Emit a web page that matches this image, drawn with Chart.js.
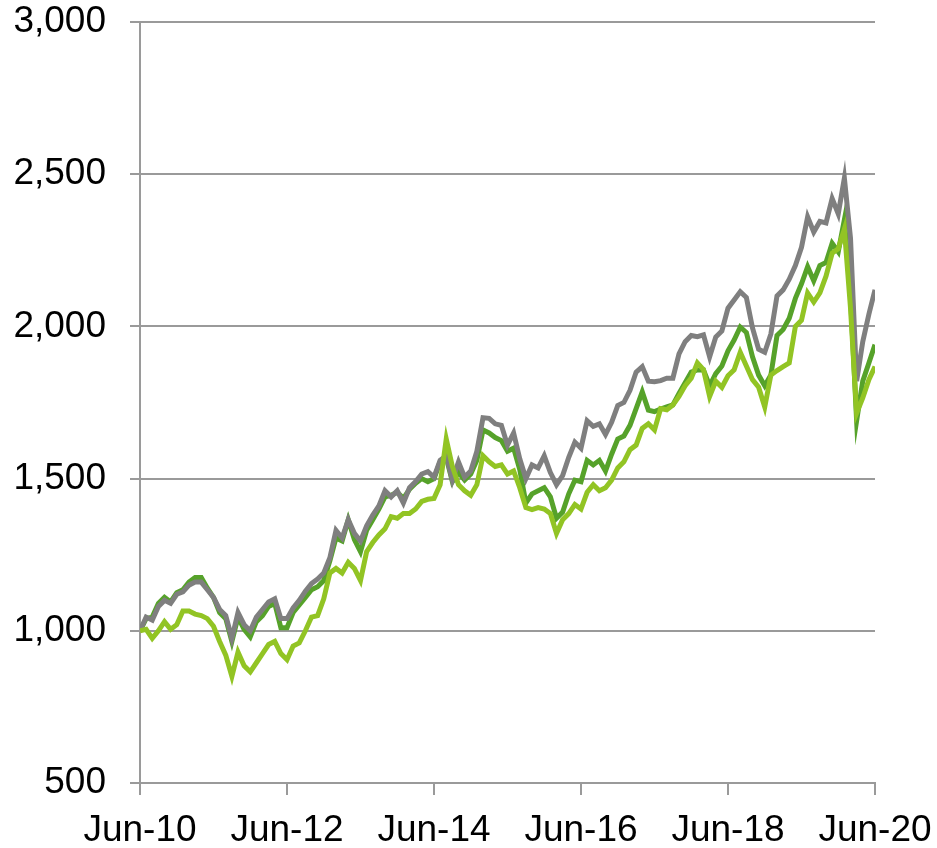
<!DOCTYPE html>
<html>
<head>
<meta charset="utf-8">
<script src="https://cdn.jsdelivr.net/npm/chart.js@4.4.1/dist/chart.umd.min.js"></script>
<style>
  html, body { margin: 0; padding: 0; background: #fff; }
  #wrap { width: 937px; height: 848px; }
</style>
</head>
<body>
<div id="wrap"><canvas id="myChart" width="937" height="848"></canvas></div>
<script>
// monthly index values, Jun-10 .. Jun-20 (121 months)
const grayValues = [
  1000, 1045, 1035, 1080, 1100, 1090, 1120, 1128, 1150, 1160, 1160, 1135, 1110, 1070, 1050, 975, 1060, 1020, 1000, 1045, 1070,
  1095, 1105, 1040, 1040, 1075, 1100, 1130, 1155, 1170, 1190, 1240, 1330, 1305, 1365, 1320, 1295, 1345, 1380, 1410, 1460,
  1440, 1460, 1420, 1470, 1490, 1515, 1523, 1505, 1560, 1575, 1495, 1555, 1505, 1525, 1590, 1700, 1698, 1680, 1675, 1610,
  1650, 1565, 1500, 1545, 1535, 1575, 1520, 1480, 1510, 1570, 1620, 1600, 1690, 1672, 1680, 1645, 1685, 1740, 1750, 1790,
  1850, 1868, 1820, 1818, 1822, 1830, 1830, 1910, 1950, 1970, 1966, 1972, 1900, 1965, 1985, 2060, 2087, 2114, 2095, 1995,
  1925, 1915, 1975, 2100, 2120, 2155, 2200, 2260, 2360, 2310, 2345, 2340, 2420, 2370, 2487, 2290, 1820, 1950, 2040, 2120
];
const darkGreenValues = [
  1000, 1040, 1045, 1090, 1110, 1095, 1125, 1135, 1160, 1175, 1175, 1140, 1110, 1060, 1040, 965, 1045, 1005, 980, 1030, 1050,
  1080, 1090, 1010, 1010, 1060, 1085, 1110, 1135, 1145, 1165, 1230, 1305, 1295, 1365, 1300, 1260, 1330, 1365, 1400, 1440,
  1445, 1455, 1435, 1465, 1485, 1500, 1490, 1500, 1555, 1570, 1490, 1520, 1495, 1515, 1560, 1660, 1650, 1635, 1625, 1590,
  1600, 1530, 1420, 1450, 1460, 1470, 1440, 1370, 1390, 1450, 1495, 1490, 1560, 1545, 1560, 1525, 1580, 1630, 1640, 1675,
  1730, 1785, 1725, 1720, 1728, 1736, 1742, 1780, 1815, 1850, 1857, 1857, 1805, 1845, 1870, 1920, 1955, 1998, 1980, 1900,
  1840, 1805, 1840, 1970, 1990, 2027, 2092, 2140, 2196, 2150, 2200, 2210, 2273, 2245, 2350, 2100, 1690, 1820, 1880, 1940
];
const lightGreenValues = [
  1000, 1005, 975, 1000, 1030, 1005, 1020, 1065, 1065, 1055, 1050, 1040, 1015, 965, 920, 850, 930, 885, 865, 895, 925,
  955, 965, 925, 905, 950, 960, 1000, 1045, 1050, 1105, 1190, 1205, 1190, 1225, 1205, 1165, 1260, 1290, 1315, 1335,
  1375, 1370, 1385, 1385, 1400, 1425, 1432, 1435, 1480, 1630, 1540, 1480, 1460, 1445, 1480, 1575, 1555, 1540, 1545, 1515,
  1525, 1470, 1405, 1398, 1405, 1400, 1385, 1320, 1365, 1385, 1415, 1400, 1455, 1480, 1460, 1470, 1495, 1535, 1555, 1595,
  1610, 1665, 1680, 1660, 1730, 1726, 1742, 1770, 1805, 1830, 1880, 1858, 1770, 1820, 1800, 1838, 1857, 1915, 1870, 1825,
  1800, 1735, 1840, 1855, 1868, 1880, 2000, 2020, 2110, 2080, 2110, 2165, 2240, 2255, 2320, 2060, 1715, 1765, 1825, 1868
];
const xTickLabels = ["Jun-10", "Jun-12", "Jun-14", "Jun-16", "Jun-18", "Jun-20"];
const yTicks = [500, 1000, 1500, 2000, 2500, 3000];

// x = month index from Jun-10
function toPoints(arr) {
  return arr.map((v, i) => ({ x: i, y: v }));
}

const fontFamily = "'Liberation Sans', Arial, sans-serif";
const axisGray = "#9a9a9a";

document.addEventListener("DOMContentLoaded", function () {
  const ctx = document.getElementById("myChart").getContext("2d");

  const lineStyle = {
    borderWidth: 5,
    pointRadius: 0,
    tension: 0,
    fill: false,
  };

  new Chart(ctx, {
    type: "line",
    data: {
      datasets: [
        Object.assign({ label: "Light green", data: toPoints(lightGreenValues), borderColor: "#92c424", order: 0 }, lineStyle),
        Object.assign({ label: "Gray", data: toPoints(grayValues), borderColor: "#7f7f7f", order: 1 }, lineStyle),
        Object.assign({ label: "Dark green", data: toPoints(darkGreenValues), borderColor: "#56a22a", order: 2 }, lineStyle),
      ],
    },
    options: {
      responsive: false,
      animation: false,
      layout: { padding: { top: 22, right: 62, left: 0, bottom: 0 } },
      plugins: {
        legend: { display: false },
        tooltip: { enabled: false },
      },
      scales: {
        x: {
          type: "linear",
          min: 0,
          max: 120,
          afterBuildTicks: function (scale) {
            scale.ticks = xTickLabels.map((l, i) => ({ value: i * 24 }));
          },
          afterFit: function (scale) {
            scale.height = 65;
            scale.paddingLeft = 0;
            scale.paddingRight = 0;
          },
          ticks: {
            autoSkip: false,
            maxRotation: 0,
            padding: 14,
            color: "#000",
            font: { family: fontFamily, size: 37 },
            callback: function (value) {
              return xTickLabels[Math.round(value / 24)];
            },
          },
          grid: {
            drawOnChartArea: false,
            drawTicks: true,
            tickLength: 12,
            color: axisGray,
            lineWidth: 2,
          },
          border: { color: axisGray, width: 2 },
        },
        y: {
          min: 500,
          max: 3000,
          afterBuildTicks: function (scale) {
            scale.ticks = yTicks.map(v => ({ value: v }));
          },
          afterFit: function (scale) {
            scale.width = 140;
            scale.paddingTop = 0;
            scale.paddingBottom = 0;
          },
          ticks: {
            padding: 24,
            color: "#000",
            font: { family: fontFamily, size: 37 },
            callback: function (value) {
              return value.toLocaleString("en-US");
            },
          },
          grid: {
            drawTicks: true,
            tickLength: 10,
            color: axisGray,
            lineWidth: 2,
          },
          border: { color: axisGray, width: 2 },
        },
      },
    },
  });
});
</script>
</body>
</html>
